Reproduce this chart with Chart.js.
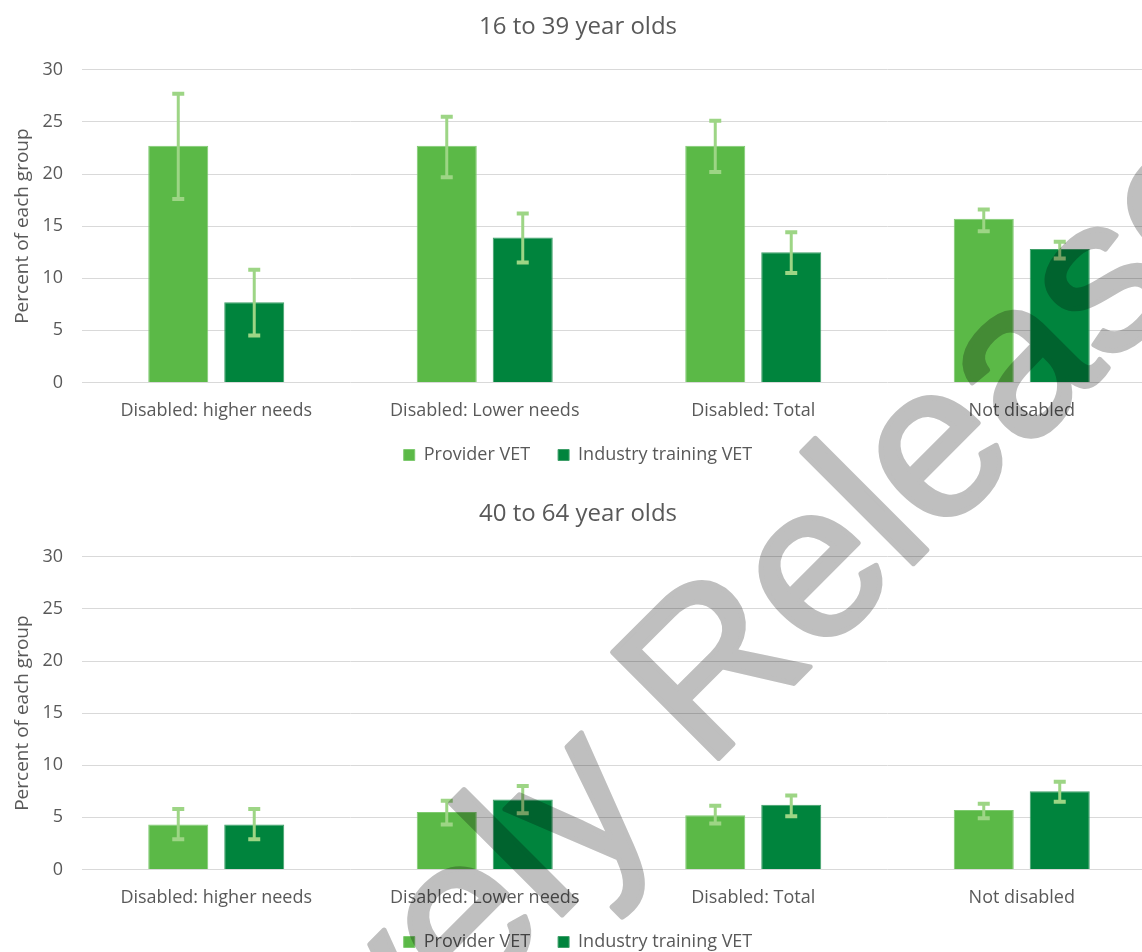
<!DOCTYPE html>
<html>
<head>
<meta charset="utf-8">
<script src="https://cdn.jsdelivr.net/npm/chart.js@4.4.1/dist/chart.umd.min.js"></script>
<style>
  html, body { margin: 0; padding: 0; background: #fff; overflow: hidden; }
  body { width: 1142px; height: 952px; position: relative; overflow: hidden; }
  .box { position: absolute; left: 0; width: 1158px; height: 476px; }
  #topBox { top: 0; }
  #bottomBox { top: 487px; }
  #mark { position: absolute; left: 0; top: 0; pointer-events: none; mix-blend-mode: multiply; }
</style>
</head>
<body>
<div class="box" id="topBox"><canvas id="young"></canvas></div>
<div class="box" id="bottomBox"><canvas id="older"></canvas></div>
<canvas id="mark" width="1142" height="952"></canvas>

<script>
const categories = ['Disabled: higher needs', 'Disabled: Lower needs', 'Disabled: Total', 'Not disabled'];
const seriesNames = ['Provider VET', 'Industry training VET'];

// 16 to 39 year olds
const youngProvider = [22.7, 22.7, 22.7, 15.7];
const youngProviderLow = [17.6, 19.7, 20.2, 14.5];
const youngProviderHigh = [27.7, 25.5, 25.1, 16.6];
const youngIndustry = [7.7, 13.9, 12.5, 12.8];
const youngIndustryLow = [4.5, 11.5, 10.5, 11.9];
const youngIndustryHigh = [10.8, 16.2, 14.4, 13.5];

// 40 to 64 year olds
const olderProvider = [4.3, 5.5, 5.2, 5.7];
const olderProviderLow = [2.9, 4.3, 4.4, 4.9];
const olderProviderHigh = [5.8, 6.6, 6.1, 6.3];
const olderIndustry = [4.3, 6.7, 6.2, 7.5];
const olderIndustryLow = [2.9, 5.4, 5.1, 6.5];
const olderIndustryHigh = [5.8, 8.0, 7.1, 8.4];

const textColor = '#595959';
const fontFamily = '"Open Sans", "Noto Sans", sans-serif';

// draws the confidence interval whiskers on top of each bar
const errorBars = {
  id: 'errorBars',
  afterDatasetsDraw(chart, args, opts) {
    const ctx = chart.ctx;
    const y = chart.scales.y;
    ctx.save();
    ctx.strokeStyle = opts.color;
    ctx.lineCap = 'butt';
    chart.data.datasets.forEach((ds, i) => {
      const meta = chart.getDatasetMeta(i);
      meta.data.forEach((bar, j) => {
        const top = y.getPixelForValue(opts.high[i][j]);
        const bot = y.getPixelForValue(opts.low[i][j]);
        ctx.lineWidth = 3;
        ctx.beginPath();
        ctx.moveTo(bar.x, top);
        ctx.lineTo(bar.x, bot);
        ctx.stroke();
        ctx.lineWidth = 4;
        ctx.beginPath();
        ctx.moveTo(bar.x - 6, top);
        ctx.lineTo(bar.x + 6, top);
        ctx.moveTo(bar.x - 6, bot);
        ctx.lineTo(bar.x + 6, bot);
        ctx.stroke();
      });
    });
    ctx.restore();
  }
};

function makeChart(id, title, provider, industry, low, high) {
  return new Chart(document.getElementById(id), {
    type: 'bar',
    data: {
      labels: categories,
      datasets: [{
        label: seriesNames[0],
        data: provider,
        backgroundColor: '#5bb947',
        borderColor: '#7fca70',
        borderWidth: 1
      }, {
        label: seriesNames[1],
        data: industry,
        backgroundColor: '#00843d',
        borderColor: '#3f9f69',
        borderWidth: 1
      }]
    },
    options: {
      responsive: true,
      maintainAspectRatio: false,
      animation: false,
      datasets: {
        bar: { categoryPercentage: 0.566, barPercentage: 0.79 }
      },
      layout: { padding: { left: 0, right: 2, top: 0, bottom: 2 } },
      plugins: {
        title: {
          display: true,
          text: title,
          color: textColor,
          font: { family: fontFamily, size: 24, weight: 'normal' },
          padding: { top: 13, bottom: 28 }
        },
        legend: {
          position: 'bottom',
          labels: {
            color: textColor,
            font: { family: fontFamily, size: 18 },
            boxWidth: 11,
            boxHeight: 11,
            padding: 14,
            // widen the gap after the first entry without adding vertical space
            generateLabels(chart) {
              const items = Chart.defaults.plugins.legend.labels.generateLabels(chart);
              items[0].text = items[0].text + '   ';
              return items;
            }
          }
        },
        tooltip: { enabled: false },
        errorBars: { color: '#9dd585', low: low, high: high }
      },
      scales: {
        x: {
          grid: { display: false },
          border: { display: false },
          ticks: {
            color: textColor,
            padding: 10,
            maxRotation: 0,
            font: { family: fontFamily, size: 18 }
          }
        },
        y: {
          min: 0,
          max: 30,
          afterFit(scale) { scale.width = 82; },
          grid: { color: '#d9d9d9', lineWidth: 1, drawTicks: false },
          border: { display: false },
          ticks: {
            stepSize: 5,
            color: textColor,
            padding: 19,
            font: { family: fontFamily, size: 18 }
          },
          title: {
            display: true,
            text: 'Percent of each group',
            color: textColor,
            font: { family: fontFamily, size: 19 },
            padding: { top: 11, bottom: 0 }
          }
        }
      }
    },
    plugins: [errorBars]
  });
}

makeChart('young', '16 to 39 year olds', youngProvider, youngIndustry,
  [youngProviderLow, youngIndustryLow], [youngProviderHigh, youngIndustryHigh]);
makeChart('older', '40 to 64 year olds', olderProvider, olderIndustry,
  [olderProviderLow, olderIndustryLow], [olderProviderHigh, olderIndustryHigh]);

// diagonal document watermark
const mark = document.getElementById('mark').getContext('2d');
mark.save();
mark.translate(706, 771);
mark.rotate(-Math.PI / 4);
mark.font = '218px "Liberation Sans", Arial, sans-serif';
mark.fillStyle = '#bfbfbf';
mark.strokeStyle = '#bfbfbf';
mark.lineWidth = 5;
mark.lineJoin = 'round';
mark.textAlign = 'right';
mark.fillText('Proactively ', 0, 0);
mark.strokeText('Proactively ', 0, 0);
mark.textAlign = 'left';
mark.fillText('Released', 0, 0);
mark.strokeText('Released', 0, 0);
mark.restore();
</script>
</body>
</html>
